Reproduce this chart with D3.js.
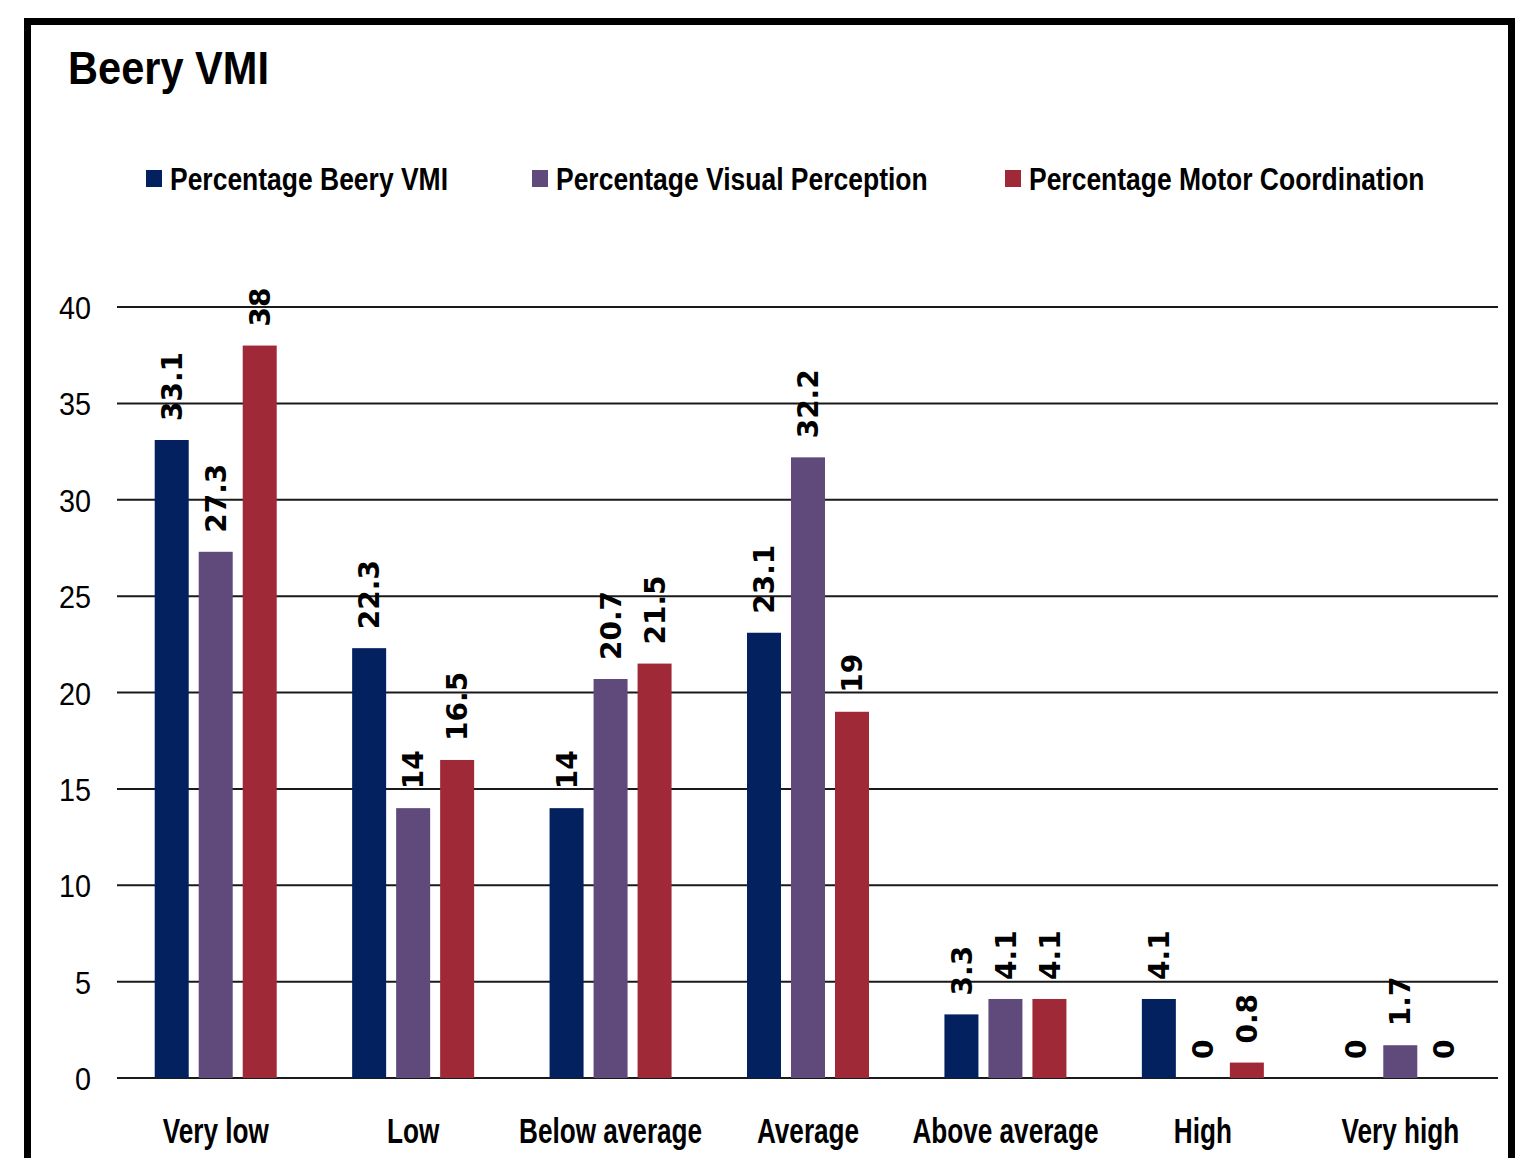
<!DOCTYPE html>
<html>
<head>
<meta charset="utf-8">
<script src="https://cdn.jsdelivr.net/npm/d3@7"></script>
<style>
  html, body { margin: 0; padding: 0; background: #fff; }
  svg { display: block; }
</style>
</head>
<body>
<svg id="chart" width="1522" height="1158"></svg>
<script>
// ---- Data ----
const categories = ["Very low", "Low", "Below average", "Average", "Above average", "High", "Very high"];
const seriesNames = ["Percentage Beery VMI", "Percentage Visual Perception", "Percentage Motor Coordination"];
const beeryVMI = [33.1, 22.3, 14, 23.1, 3.3, 4.1, 0];
const visualPerception = [27.3, 14, 20.7, 32.2, 4.1, 0, 1.7];
const motorCoordination = [38, 16.5, 21.5, 19, 4.1, 0.8, 0];
const yTicks = [0, 5, 10, 15, 20, 25, 30, 35, 40];
const titleText = "Beery VMI";

// ---- Styles ----
const colors = ["#03215E", "#5F4A7B", "#9F2937"];
const narrow = "'Liberation Sans Narrow', 'Arial Narrow', 'Liberation Sans', Arial, sans-serif";
const labelFont = "'DejaVu Sans', Verdana, sans-serif";

const svg = d3.select("#chart");
const series = [beeryVMI, visualPerception, motorCoordination];

// frame
svg.append("rect")
  .attr("x", 27.5).attr("y", 21.5)
  .attr("width", 1484).attr("height", 1160)
  .attr("fill", "none").attr("stroke", "#000").attr("stroke-width", 7);

// fit text horizontally to mimic condensed font
function fit(sel, k) {
  sel.each(function () {
    const w = this.getComputedTextLength();
    d3.select(this).attr("textLength", w * k).attr("lengthAdjust", "spacingAndGlyphs");
  });
}
function kFor(sample, size, weight, target) {
  const t = svg.append("text").attr("font-family", narrow).attr("font-size", size)
    .attr("font-weight", weight).text(sample);
  const w = t.node().getComputedTextLength();
  t.remove();
  return target / w;
}

// title
const title = svg.append("text")
  .attr("x", 68).attr("y", 84)
  .attr("font-family", narrow).attr("font-weight", "bold").attr("font-size", 46)
  .attr("fill", "#000").text(titleText);
fit(title, kFor(titleText, 46, "bold", 201));

// scales
const x0 = d3.scaleBand().domain(categories).range([117, 1499]).padding(0);
const barW = 34, barStep = 44;
const y = d3.scaleLinear().domain([0, 40]).range([1078, 307]);

// gridlines
svg.append("g").selectAll("line").data(yTicks).join("line")
  .attr("x1", 117).attr("x2", 1498)
  .attr("y1", d => y(d)).attr("y2", d => y(d))
  .attr("stroke", "#1a1a1a").attr("stroke-width", 2);

// y axis labels
const yAxis = svg.append("g")
  .attr("transform", "translate(91,0)")
  .call(d3.axisLeft(y).tickValues(yTicks).tickSize(0).tickPadding(0));
yAxis.select(".domain").remove();
yAxis.selectAll("text")
  .attr("font-family", narrow).attr("font-size", 32).attr("fill", "#000")
  .attr("dy", "0.36em");
yAxis.selectAll("text").call(fit, kFor("40", 32, "normal", 32));

// x axis labels
const xAxis = svg.append("g")
  .attr("transform", "translate(0,1143)")
  .call(d3.axisBottom(x0).tickSize(0).tickPadding(0));
xAxis.select(".domain").remove();
xAxis.selectAll("text")
  .attr("font-family", narrow).attr("font-size", 35).attr("font-weight", "bold").attr("fill", "#000")
  .attr("dy", 0).attr("y", 0);
xAxis.selectAll("text").call(fit, kFor("Above average", 35, "bold", 186));

// bars
const groups = svg.append("g").selectAll("g").data(categories).join("g")
  .attr("transform", d => `translate(${x0(d) + x0.bandwidth() / 2},0)`);

series.forEach((vals, si) => {
  const off = (si - 1) * barStep - barW / 2;
  groups.append("rect")
    .attr("x", off)
    .attr("y", (d, i) => y(vals[i]))
    .attr("width", barW)
    .attr("height", (d, i) => y(0) - y(vals[i]))
    .attr("fill", colors[si]);
  groups.append("text")
    .attr("transform", (d, i) => `translate(${off + barW / 2},${y(vals[i]) - 19}) rotate(-90)`)
    .attr("dy", "0.36em")
    .attr("font-family", labelFont).attr("font-weight", "bold").attr("font-size", 28)
    .attr("fill", "#000")
    .text((d, i) => vals[i]);
});

// legend
const legendX = [146, 532, 1005];
const legK = kFor(seriesNames[0], 31, "bold", 278);
const leg = svg.append("g").selectAll("g").data(seriesNames).join("g")
  .attr("transform", (d, i) => `translate(${legendX[i]},0)`);
leg.append("rect").attr("x", 0).attr("y", 170).attr("width", 16).attr("height", 17)
  .attr("fill", (d, i) => colors[i]);
leg.append("text").attr("x", 24).attr("y", 190)
  .attr("font-family", narrow).attr("font-weight", "bold").attr("font-size", 31)
  .attr("fill", "#000").text(d => d)
  .call(fit, legK);
</script>
</body>
</html>
